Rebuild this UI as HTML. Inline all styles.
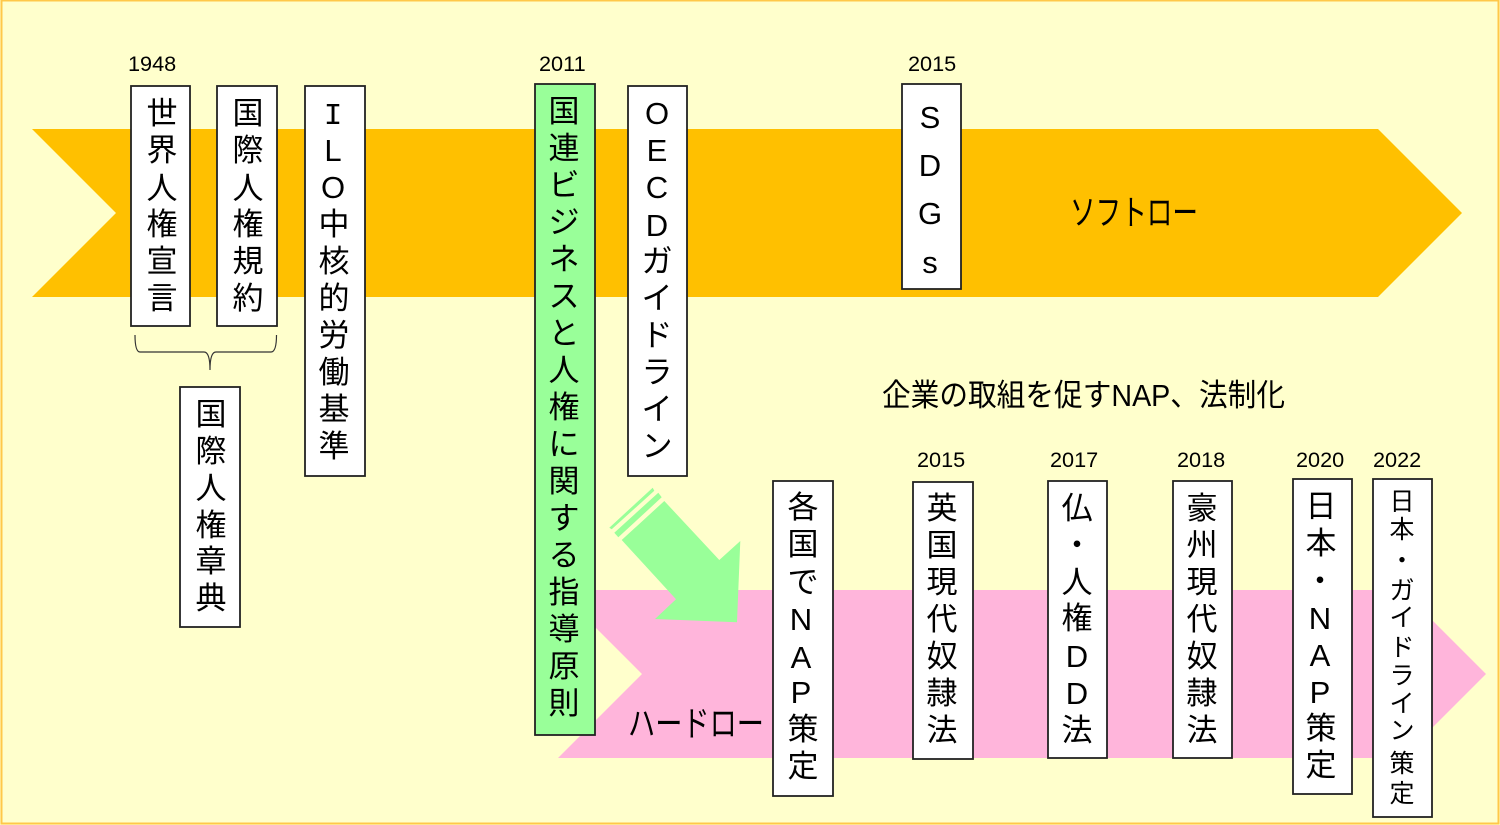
<!DOCTYPE html>
<html lang="ja">
<head>
<meta charset="utf-8">
<title>Diagram</title>
<style>
html,body{margin:0;padding:0;background:#FFFFCC;}
svg{display:block;}
text{font-family:"Liberation Sans","Noto Sans CJK JP",sans-serif;fill:#000;}
.v{font-size:31px;text-anchor:middle;}
.y{font-size:21.7px;}
.b{fill:#fff;stroke:#222;stroke-width:1.8;}
</style>
</head>
<body>
<svg width="1500" height="825" viewBox="0 0 1500 825" xmlns="http://www.w3.org/2000/svg">
<rect x="1.5" y="0.5" width="1497" height="823" fill="#FFFFCC" stroke="#FFC84A" stroke-width="2"/>
<polygon points="32,129 1378,129 1462,213 1378,297 32,297 116,213" fill="#FFC000"/>
<polygon points="558,590 1402,590 1486,674 1402,758 558,758 642,674" fill="#FFB5DB"/>
<polygon points="664.3,501 719.3,560 740.3,541 737,622.3 655,619 676,599.3 621.7,540" fill="#99FF99"/>
<polygon points="652.7,487.7 654.3,490.7 611.7,529.3 609.3,527.7" fill="#99FF99"/>
<polygon points="658.3,492.7 661.7,497.3 618.3,537.3 614.3,532.7" fill="#99FF99"/>
<path d="M135 335 Q135 352 140 352 L204 352 Q210 352 210 370 Q210 352 216 352 L271 352 Q276.5 352 276.5 335" fill="none" stroke="#333" stroke-width="1.2"/>

<rect class="b" x="131" y="86" width="59" height="240"/>
<rect class="b" x="217" y="86" width="60" height="240"/>
<rect class="b" x="305" y="86" width="60" height="390"/>
<rect class="b" x="180" y="387" width="60" height="240"/>
<rect class="b" x="535" y="84" width="60" height="651" style="fill:#99FF99"/>
<rect class="b" x="628" y="86" width="59" height="390"/>
<rect class="b" x="902" y="84" width="59" height="205"/>
<rect class="b" x="773" y="481" width="60" height="315"/>
<rect class="b" x="913" y="482" width="60" height="277"/>
<rect class="b" x="1048" y="481" width="59" height="277"/>
<rect class="b" x="1173" y="481" width="59" height="277"/>
<rect class="b" x="1293" y="479" width="59" height="315"/>
<rect class="b" x="1373" y="479" width="59" height="338"/>

<text class="y" x="128" y="71">1948</text>
<text class="y" x="539" y="71">2011</text>
<text class="y" x="908" y="71">2015</text>
<text class="y" x="917" y="467">2015</text>
<text class="y" x="1050" y="467">2017</text>
<text class="y" x="1177" y="467">2018</text>
<text class="y" x="1296" y="467">2020</text>
<text class="y" x="1373" y="467">2022</text>

<text class="v" x="162 162 162 162 162 162" y="124 161 199 235 272 309">世界人権宣言</text>
<text class="v" x="248 248 248 248 248 248" y="124 161 199 235 272 309">国際人権規約</text>
<text class="v" x="333" y="124" style="font-family:'Liberation Mono',monospace">I</text>
<text class="v" x="333 333 334 334 334 334 334 334 334" y="161 198 235 272 309 346 383 420 457">LO中核的労働基準</text>
<text class="v" x="211 211 211 211 211 211" y="425 462 499 536 572 609">国際人権章典</text>
<text class="v" x="564 564 564 564 564 564 564 564 564 564 564 564 564 564 564 564 564" y="122 159 196 233 270 307 344 381 418 455 492 529 566 603 640 677 714">国連ビジネスと人権に関する指導原則</text>
<text class="v" x="657 657 657 657 657 657 657 657 657 657" y="124 161 198 236 272 309 346 383 420 457">OECDガイドライン</text>
<text class="v" x="930 930 930 930" y="128 176 224 273">SDGs</text>
<text class="v" x="803 803 803 801 801 801 803 803" y="518 555 593 630 668 703 740 777">各国でNAP策定</text>
<text class="v" x="942 942 942 942 942 942 942" y="519 556 593 630 667 704 741">英国現代奴隷法</text>
<text class="v" x="1077 1077 1077 1077 1077 1077 1077" y="519 556 593 629 667 704 741">仏・人権DD法</text>
<text class="v" x="1202 1202 1202 1202 1202 1202 1202" y="519 556 593 630 667 704 741">豪州現代奴隷法</text>
<text class="v" x="1321 1321 1320 1320 1320 1320 1321 1321" y="517 554 592 629 666 703 739 776">日本・NAP策定</text>
<text class="v" x="1402 1402 1402 1402 1402 1402 1402 1402 1402 1402 1402" y="510 538 569 599 626 656 684 712 739 772 802" style="font-size:25px">日本・ガイドライン策定</text>

<text x="1070" y="225" textLength="128" lengthAdjust="spacingAndGlyphs" style="font-size:35px">ソフトロー</text>
<text x="628" y="736" textLength="136" lengthAdjust="spacingAndGlyphs" style="font-size:35px">ハードロー</text>
<text x="882" y="406" textLength="403" lengthAdjust="spacingAndGlyphs" style="font-size:31px">企業の取組を促すNAP、法制化</text>
</svg>
</body>
</html>
